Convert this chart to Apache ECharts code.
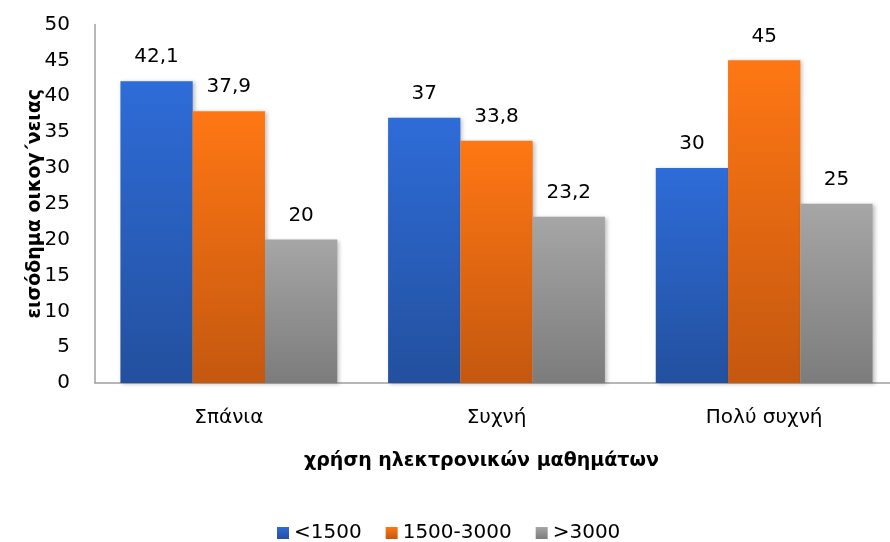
<!DOCTYPE html>
<html>
<head>
<meta charset="utf-8">
<script src="https://cdn.jsdelivr.net/npm/echarts@6/dist/echarts.min.js"></script>
<style>
  html, body { margin: 0; padding: 0; background: #fff; }
  #chart { width: 890px; height: 542px; }
</style>
</head>
<body>
<div id="chart"></div>
<script>
// Frequency of e-learning use (categories) vs. family income band (series)
const categories = ['Σπάνια', 'Συχνή', 'Πολύ συχνή'];
const seriesNames = ['<1500', '1500-3000', '>3000'];
const lowIncome = [42.1, 37, 30];
const midIncome = [37.9, 33.8, 45];
const highIncome = [20, 23.2, 25];
const yTicks = [0, 5, 10, 15, 20, 25, 30, 35, 40, 45, 50];

const FONT = '"DejaVu Sans", sans-serif';

function grad(top, bottom) {
  return new echarts.graphic.LinearGradient(0, 0, 0, 1, [
    { offset: 0, color: top },
    { offset: 1, color: bottom }
  ]);
}

const palette = [
  grad('#2E6CD8', '#23509E'),
  grad('#FF7714', '#C4580F'),
  grad('#A6A6A6', '#7C7C7C')
];

function fmt(v) { return String(v).replace('.', ','); }

function barSeries(name, data, color) {
  return {
    name: name,
    type: 'bar',
    data: data,
    barGap: '0%',
    barCategoryGap: '19%',
    itemStyle: {
      color: color,
      shadowColor: 'rgba(0,0,0,0.25)',
      shadowBlur: 4,
      shadowOffsetX: 2,
      shadowOffsetY: 1
    },
    label: {
      show: true,
      position: 'top',
      distance: 14,
      color: '#000',
      fontFamily: FONT,
      fontSize: 20,
      formatter: p => fmt(p.value)
    }
  };
}

const chart = echarts.init(document.getElementById('chart'), null, { renderer: 'canvas' });
chart.setOption({
  animation: false,
  backgroundColor: '#fff',
  grid: {
    left: 95, width: 803, top: 24.5, height: 358.5,
    containLabel: false,
    outerBoundsMode: 'none'
  },
  legend: {
    data: seriesNames,
    left: 272,
    top: 518,
    itemWidth: 12,
    itemHeight: 12,
    itemGap: 24,
    icon: 'rect',
    textStyle: { fontFamily: FONT, fontSize: 20, color: '#000' }
  },
  xAxis: {
    type: 'category',
    data: categories,
    axisLine: { show: true, lineStyle: { color: '#A0A0A0', width: 1.5 } },
    axisTick: { show: false },
    axisLabel: { color: '#000', fontFamily: FONT, fontSize: 20, margin: 25 }
  },
  yAxis: {
    type: 'value',
    min: 0,
    max: 50,
    interval: 5,
    name: 'εισόδημα οικογ΄νειας',
    nameLocation: 'middle',
    nameGap: 50,
    nameMoveOverlap: false,
    nameTextStyle: { fontFamily: FONT, fontSize: 19, fontWeight: 'bold', color: '#000' },
    axisLine: { show: true, lineStyle: { color: '#A0A0A0', width: 1.5 } },
    axisTick: { show: false },
    splitLine: { show: false },
    axisLabel: {
      color: '#000',
      fontFamily: FONT,
      fontSize: 20,
      margin: 25,
      formatter: v => yTicks.includes(v) ? String(v) : ''
    }
  },
  graphic: [{
    type: 'text',
    left: 304,
    top: 452,
    style: {
      text: 'χρήση ηλεκτρονικών μαθημάτων',
      fontFamily: FONT,
      fontSize: 19,
      fontWeight: 'bold',
      fill: '#000'
    }
  }],
  series: [
    barSeries(seriesNames[0], lowIncome, palette[0]),
    barSeries(seriesNames[1], midIncome, palette[1]),
    barSeries(seriesNames[2], highIncome, palette[2])
  ]
});
</script>
</body>
</html>
